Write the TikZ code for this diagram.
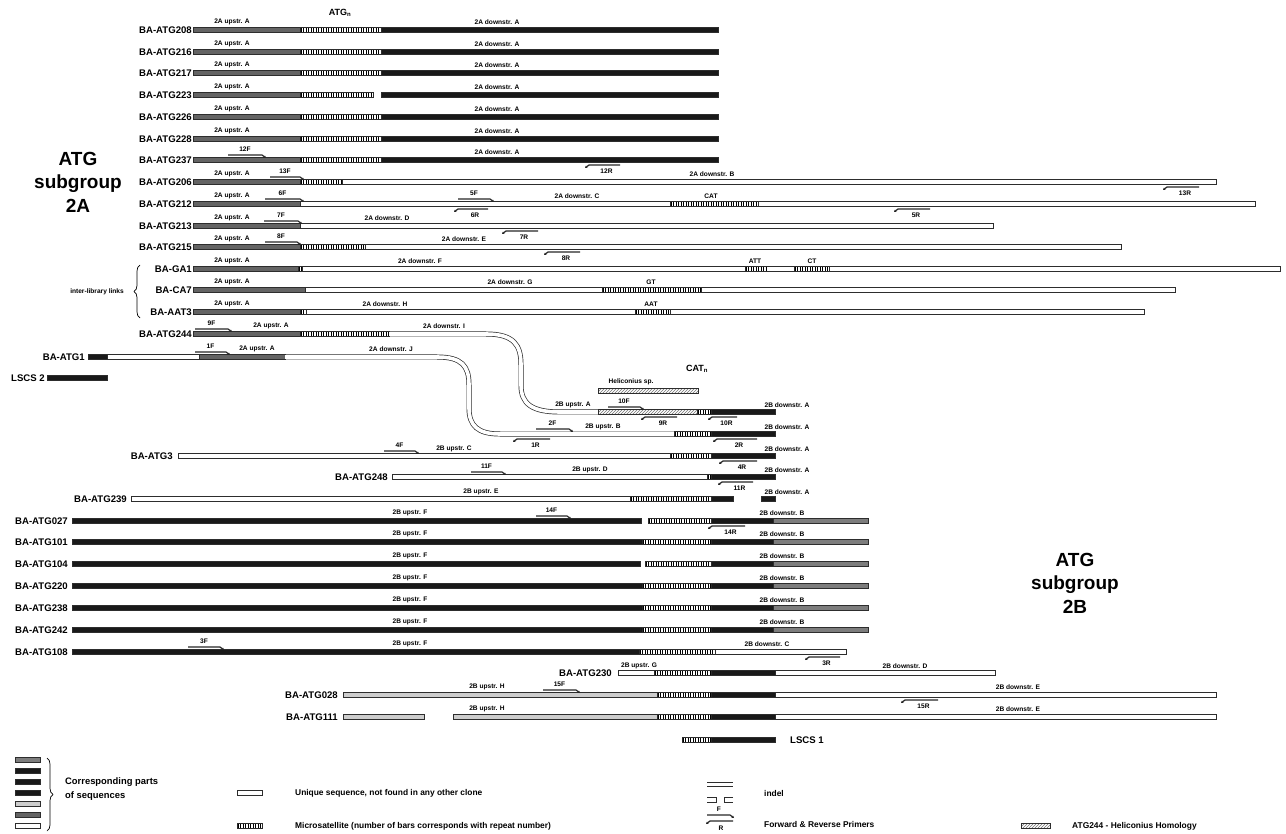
\documentclass[tikz,border=0pt]{standalone}
\usepackage{fontspec}
\setmainfont{Liberation Sans}
\usetikzlibrary{arrows.meta,decorations.pathreplacing,patterns}
\definecolor{seqBlack}{RGB}{25,25,25}
\definecolor{seqDark}{RGB}{100,100,100}
\definecolor{seqMid}{RGB}{125,125,125}
\definecolor{seqLight}{RGB}{205,205,205}
\definecolor{seqEdge}{RGB}{45,45,45}

\tikzset{
  seqedge/.style={draw=seqEdge, line width=0.7pt},
  uniq/.style={seqedge, fill=white},
  blk/.style={seqedge, fill=seqBlack},
  dkg/.style={seqedge, fill=seqDark},
  mgr/.style={seqedge, fill=seqMid},
  lgr/.style={seqedge, fill=seqLight},
  helico/.style={seqedge, preaction={fill=white}, pattern=north east lines, pattern color=black!55},
  uniqpath/.style={draw=seqEdge, line width=0.7pt, double=white, double distance=3.6pt},
  msatbars/.style={line width=4.3pt, dash pattern=on 1.2pt off 1.3pt, black},
  primer/.style={line width=1.2pt, draw=black!85, -{Stealth[length=2.4pt,width=2.8pt]}},
}

% sequence pieces: [style]{x start}{y}{x end}
\newcommand{\seqbar}[4][uniq]{\draw[#1] (#2,#3-2.5) rectangle (#4,#3+2.5);}
\newcommand{\msat}[3]{\draw[uniq] (#1,#2-2.5) rectangle (#3,#2+2.5);
  \draw[msatbars] (#1+0.6,#2) -- (#3,#2);}
% primers: {name}{x start}{x end}{y of bar}{text}
\newcommand{\fwdprimer}[5]{\draw[primer] (#2,#4-5) -- (#3,#4-5) -- ++(4,3);
  \node[plbl] (#1) at ({(#2+#3)/2},#4-10.5) {#5};}
\newcommand{\revprimer}[5]{\draw[primer] (#3,#4+5) -- (#2,#4+5) -- ++(-4,3);
  \node[plbl] (#1) at ({(#2+#3)/2+2},#4+11) {#5};}

\begin{document}
\begin{tikzpicture}[x=1pt,y=-1pt,
  every node/.style={inner sep=0pt},
  clbl/.style={anchor=east, font=\bfseries\fontsize{9.6}{11}\selectfont},
  rlbl/.style={font=\bfseries\fontsize{6.6}{8}\selectfont},
  plbl/.style={font=\bfseries\fontsize{6.6}{8}\selectfont},
  hdr/.style={font=\bfseries\fontsize{9}{11}\selectfont},
  title/.style={align=center, font=\bfseries\fontsize{19}{23.5}\selectfont},
  legtxt/.style={anchor=west, font=\bfseries\fontsize{8.4}{10}\selectfont},
]
\useasboundingbox (0,0) rectangle (1286,834);

% Group titles
\node[title] (grpA) at (78,182) {ATG\\subgroup\\2A};
\node[title] (grpB) at (1075,583) {ATG\\subgroup\\2B};
\node[hdr] (atgn) at (340,13) {ATG\textsubscript{n}};
\node[hdr] (catn) at (697,369) {CAT\textsubscript{n}};

% Subgroup 2A: full ATG repeat rows
\foreach \nm/\yy in {208/30,216/52,217/73,226/117,228/139,237/160}{
  \node[clbl] (c\nm) at (192,\yy) {BA-ATG\nm};
  \seqbar[dkg]{193}{\yy}{300}
  \msat{300}{\yy}{381}
  \seqbar[blk]{381}{\yy}{718}
  \node[rlbl] (d\nm) at (497,\yy-8) {2A downstr. A};
}
\foreach \nm/\yy in {208/30,216/52,217/73,226/117,228/139}{
  \node[rlbl] (u\nm) at (232,\yy-8) {2A upstr. A};
}
% Row 223: indel after the repeat
\node[clbl] (c223) at (192,95) {BA-ATG223};
\seqbar[dkg]{193}{95}{300}
\msat{300}{95}{373}
\seqbar[blk]{381}{95}{718}
\node[rlbl] (u223) at (232,87) {2A upstr. A};
\node[rlbl] (d223) at (497,87) {2A downstr. A};
\fwdprimer{p12F}{228}{262}{160}{12F}
\revprimer{p12R}{589}{620}{160}{12R}

% Row 206
\node[clbl] (c206) at (192,182) {BA-ATG206};
\seqbar[dkg]{193}{182}{300}
\msat{300}{182}{342}
\seqbar{342}{182}{1216}
\node[rlbl] (u206) at (232,174) {2A upstr. A};
\node[rlbl] (d206) at (712,174) {2A downstr. B};
\fwdprimer{p13F}{270}{300}{182}{13F}
\revprimer{p13R}{1167}{1199}{182}{13R}

% Row 212
\node[clbl] (c212) at (192,204) {BA-ATG212};
\seqbar[dkg]{193}{204}{300}
\seqbar{300}{204}{1255}
\msat{670}{204}{758}
\node[rlbl] (u212) at (232,196) {2A upstr. A};
\node[rlbl] (d212) at (577,196) {2A downstr. C};
\node[rlbl] (cat212) at (711,196) {CAT};
\fwdprimer{p6F}{265}{300}{204}{6F}
\fwdprimer{p5F}{458}{490}{204}{5F}
\revprimer{p6R}{458}{488}{204}{6R}
\revprimer{p5R}{898}{930}{204}{5R}

% Row 213
\node[clbl] (c213) at (192,226) {BA-ATG213};
\seqbar[dkg]{193}{226}{300}
\seqbar{300}{226}{993}
\node[rlbl] (u213) at (232,218) {2A upstr. A};
\node[rlbl] (d213) at (387,218) {2A downstr. D};
\fwdprimer{p7F}{264}{298}{226}{7F}
\revprimer{p7R}{506}{538}{226}{7R}

% Row 215
\node[clbl] (c215) at (192,247) {BA-ATG215};
\seqbar[dkg]{193}{247}{300}
\msat{300}{247}{365}
\seqbar{365}{247}{1121}
\node[rlbl] (u215) at (232,239) {2A upstr. A};
\node[rlbl] (d215) at (464,239) {2A downstr. E};
\fwdprimer{p8F}{265}{297}{247}{8F}
\revprimer{p8R}{548}{580}{247}{8R}

% Inter-library links
\node[clbl] (cga1) at (192,269) {BA-GA1};
\seqbar[dkg]{193}{269}{298}
\msat{298}{269}{302}
\seqbar{302}{269}{1280}
\msat{745}{269}{766}
\msat{794}{269}{829}
\node[rlbl] (uga1) at (232,261) {2A upstr. A};
\node[rlbl] (dga1) at (420,261) {2A downstr. F};
\node[rlbl] (att) at (755,261) {ATT};
\node[rlbl] (ct) at (812,261) {CT};

\node[clbl] (cca7) at (192,290) {BA-CA7};
\seqbar[dkg]{193}{290}{305}
\seqbar{305}{290}{1175}
\msat{602}{290}{701}
\node[rlbl] (uca7) at (232,282) {2A upstr. A};
\node[rlbl] (dca7) at (510,282) {2A downstr. G};
\node[rlbl] (gt) at (651,282) {GT};

\node[clbl] (caat3) at (192,312) {BA-AAT3};
\seqbar[dkg]{193}{312}{300}
\msat{300}{312}{306}
\seqbar{306}{312}{1144}
\msat{635}{312}{670}
\node[rlbl] (uaat3) at (232,304) {2A upstr. A};
\node[rlbl] (daat3) at (385,304) {2A downstr. H};
\node[rlbl] (aat) at (651,304) {AAT};

\draw[decorate, decoration={brace, amplitude=6pt}, line width=0.7pt] (140,318) -- (140,265);
\node[anchor=east, font=\bfseries\fontsize{6.6}{8}\selectfont] (links) at (124,292) {inter-library links};

% Row 244, bending down into 2B upstr. A
\node[clbl] (c244) at (192,334) {BA-ATG244};
\seqbar[dkg]{193}{334}{300}
\msat{300}{334}{389}
\draw[uniqpath] (389,334) -- (486,334) .. controls (514,334) and (521,345) .. (521,365)
  -- (521,385) .. controls (521,404) and (532,412) .. (560,412) -- (598,412);
\node[rlbl] (u244) at (271,326) {2A upstr. A};
\node[rlbl] (d244) at (444,326) {2A downstr. I};
\fwdprimer{p9F}{195}{228}{334}{9F}

% Row ATG1, bending down into 2B upstr. B
\node[clbl] (c1) at (85,357) {BA-ATG1};
\seqbar[blk]{88}{357}{107}
\seqbar{107}{357}{199}
\seqbar[dkg]{199}{357}{285}
\draw[uniqpath] (285,357) -- (437,357) .. controls (462,357) and (469,366) .. (469,385)
  -- (469,408) .. controls (469,426) and (478,434) .. (500,434) -- (674,434);
\node[rlbl] (u1) at (257,349) {2A upstr. A};
\node[rlbl] (d1) at (391,349) {2A downstr. J};
\fwdprimer{p1F}{195}{226}{357}{1F}

\node[clbl] (lscs2) at (45,378) {LSCS 2};
\seqbar[blk]{47}{378}{107}

% Heliconius homology
\seqbar[helico]{598}{391}{698}
\node[rlbl] (helisp) at (631,382) {Heliconius sp.};

% 2B upstr. A
\seqbar[helico]{598}{412}{697}
\msat{697}{412}{711}
\seqbar[blk]{711}{412}{775}
\node[rlbl] (u2ba) at (573,405) {2B upstr. A};
\node[rlbl] (d2ba) at (787,405) {2B downstr. A};
\fwdprimer{p10F}{608}{640}{412}{10F}
\revprimer{p9R}{645}{677}{412}{9R}
\revprimer{p10R}{712}{737}{412}{10R}

% 2B upstr. B
\msat{674}{434}{711}
\seqbar[blk]{711}{434}{775}
\node[rlbl] (u2bb) at (603,427) {2B upstr. B};
\node[rlbl] (d2bb) at (787,427) {2B downstr. A};
\fwdprimer{p2F}{536}{569}{434}{2F}
\revprimer{p1R}{517}{550}{434}{1R}
\revprimer{p2R}{717}{757}{434}{2R}

% Row ATG3
\node[clbl] (c3) at (173,456) {BA-ATG3};
\seqbar{178}{456}{670}
\msat{670}{456}{711}
\seqbar[blk]{711}{456}{775}
\node[rlbl] (u3) at (454,449) {2B upstr. C};
\node[rlbl] (d3) at (787,449) {2B downstr. A};
\fwdprimer{p4F}{384}{415}{456}{4F}
\revprimer{p4R}{723}{757}{456}{4R}

% Row 248
\node[clbl] (c248) at (388,477) {BA-ATG248};
\seqbar{392}{477}{707}
\msat{707}{477}{711}
\seqbar[blk]{711}{477}{775}
\node[rlbl] (u248) at (590,470) {2B upstr. D};
\node[rlbl] (d248) at (787,470) {2B downstr. A};
\fwdprimer{p11F}{471}{502}{477}{11F}
\revprimer{p11R}{722}{753}{477}{11R}

% Row 239
\node[clbl] (c239) at (127,499) {BA-ATG239};
\seqbar{131}{499}{630}
\msat{630}{499}{711}
\seqbar[blk]{711}{499}{733}
\seqbar[blk]{761}{499}{775}
\node[rlbl] (u239) at (481,492) {2B upstr. E};
\node[rlbl] (d239) at (787,492) {2B downstr. A};

% Subgroup 2B: upstr. F rows
\foreach \nm/\yy/\xe/\xm in {027/521/641/648,101/542/642/642,104/564/640/645,
                             220/586/642/642,238/608/642/642,242/630/642/642}{
  \node[clbl] (c\nm) at (68,\yy) {BA-ATG\nm};
  \seqbar[blk]{72}{\yy}{\xe}
  \msat{\xm}{\yy}{711}
  \seqbar[blk]{711}{\yy}{773}
  \seqbar[mgr]{773}{\yy}{868}
  \node[rlbl] (u\nm) at (410,\yy-8) {2B upstr. F};
  \node[rlbl] (d\nm) at (782,\yy-8) {2B downstr. B};
}
\fwdprimer{p14F}{536}{567}{521}{14F}
\revprimer{p14R}{712}{745}{521}{14R}

% Row 108
\node[clbl] (c108) at (68,652) {BA-ATG108};
\seqbar[blk]{72}{652}{639}
\msat{639}{652}{715}
\seqbar{715}{652}{846}
\node[rlbl] (u108) at (410,644) {2B upstr. F};
\node[rlbl] (d108) at (767,644) {2B downstr. C};
\fwdprimer{p3F}{188}{220}{652}{3F}
\revprimer{p3R}{809}{840}{652}{3R}

% Row 230
\node[clbl] (c230) at (612,673) {BA-ATG230};
\seqbar{618}{673}{654}
\msat{654}{673}{711}
\seqbar[blk]{711}{673}{775}
\seqbar{775}{673}{995}
\node[rlbl] (u230) at (639,666) {2B upstr. G};
\node[rlbl] (d230) at (905,666) {2B downstr. D};

% Rows 028 and 111
\node[clbl] (c028) at (338,695) {BA-ATG028};
\seqbar[lgr]{343}{695}{657}
\msat{657}{695}{711}
\seqbar[blk]{711}{695}{775}
\seqbar{775}{695}{1216}
\node[rlbl] (u028) at (487,687) {2B upstr. H};
\node[rlbl] (d028) at (1018,687) {2B downstr. E};
\fwdprimer{p15F}{543}{576}{695}{15F}
\revprimer{p15R}{905}{938}{695}{15R}

\node[clbl] (c111) at (338,717) {BA-ATG111};
\seqbar[lgr]{343}{717}{424}
\seqbar[lgr]{453}{717}{657}
\msat{657}{717}{711}
\seqbar[blk]{711}{717}{775}
\seqbar{775}{717}{1216}
\node[rlbl] (u111) at (487,709) {2B upstr. H};
\node[rlbl] (d111) at (1018,709) {2B downstr. E};

% LSCS 1
\msat{682}{740}{711}
\seqbar[blk]{711}{740}{775}
\node[clbl, anchor=west] (lscs1) at (790,740) {LSCS 1};

% Legend
\foreach \yy/\st in {760/mgr,771/blk,782/blk,793/blk,804/lgr,815/dkg,826/uniq}{
  \seqbar[\st]{15}{\yy}{40}
}
\draw[decorate, decoration={brace, amplitude=6pt}, line width=0.7pt] (47,758) -- (47,831);
\node[legtxt, align=left, font=\bfseries\fontsize{9.4}{14}\selectfont] (corr) at (65,789) {Corresponding parts\\of sequences};

\seqbar{237}{793}{262}
\node[legtxt] (legU) at (295,793) {Unique sequence, not found in any other clone};
\msat{237}{826}{262}
\node[legtxt] (legM) at (295,826) {Microsatellite (number of bars corresponds with repeat number)};

\draw[seqedge] (707,782) -- (733,782) (707,786.5) -- (733,786.5);
\draw[seqedge] (707,797) -- (716,797) -- (716,802) -- (707,802);
\draw[seqedge] (733,797) -- (724,797) -- (724,802) -- (733,802);
\node[legtxt] (legI) at (764,793) {indel};

\draw[primer] (707,815) -- (730,815) -- ++(4,3);
\node[plbl] (legF) at (719,809) {F};
\draw[primer] (733,821) -- (710,821) -- ++(-4,3);
\node[plbl] (legR) at (721,828) {R};
\node[legtxt] (legP) at (764,824) {Forward \& Reverse Primers};

\seqbar[helico]{1021}{826}{1050}
\node[legtxt] (legH) at (1072,826) {ATG244 - Heliconius Homology};
\end{tikzpicture}
\end{document}
